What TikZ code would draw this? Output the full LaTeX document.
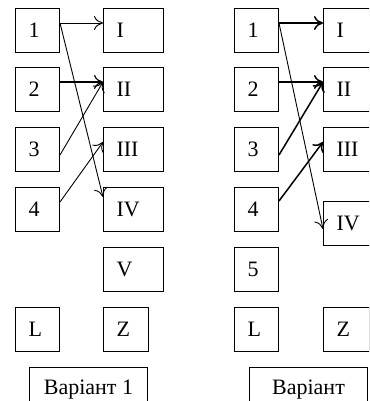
\documentclass[tikz,border=0pt]{standalone}
\usepackage{fontspec}
\setmainfont{Liberation Serif}
\usetikzlibrary{arrows.meta,positioning}

\begin{document}
\begin{tikzpicture}[
            every node/.style={font=\fontsize{11}{13}\selectfont},
            num/.style={draw, line width=0.5pt, minimum height=22pt, inner xsep=6.5pt, inner ysep=0pt, text width=9pt, align=left},
            rom/.style={num, text width=17pt},
            variant/.style={draw, line width=0.5pt, minimum height=22pt, minimum width=59pt, align=center},
            link/.style={-{To[length=4.5pt,width=7pt]}, line width=0.45pt},
            bold link/.style={link, line width=0.75pt},
            node distance = 7.5pt and 21.5pt
  ]

  \useasboundingbox (0,0) rectangle (184.5pt,-200.5pt);
  \clip (0,0) rectangle (184.5pt,-200.5pt);

  % variant 1
  \node[num, anchor=north west] (a1) at (7.5pt,-4pt) {1};
  \node[num] (a2) [below=7pt of a1] {2};
  \node[num] (a3) [below=of a2] {3};
  \node[num] (a4) [below=of a3] {4};

  \node[rom] (r1) [right=of a1] {I};
  \node[rom] (r2) [right=of a2] {II};
  \node[rom] (r3) [right=of a3] {III};
  \node[rom] (r4) [right=of a4] {IV};
  \node[rom] (r5) [below=of r4] {V};

  \node[num, text width=9.5pt] (zl) [below right=7.5pt and 0pt of r5.south west] {Z};
  \node[num] (ll) [left=of zl] {L};
  \node[variant] (varl) [below right=7.5pt and 7pt of ll.south west] {Варіант 1};

  \draw[link] ([yshift=-7.5pt]a1.north east) -- ([yshift=-7.5pt]r1.north west);
  \draw[link] ([yshift=-7.5pt]a1.north east) -- ([yshift=-5pt]r4.north west);
  \draw[link, line width=0.6pt] ([yshift=-7.5pt]a2.north east) -- ([yshift=-7.5pt]r2.north west);
  \draw[link] ([yshift=-14pt]a3.north east) -- ([yshift=-7.5pt]r2.north west);
  \draw[link] ([yshift=-7.5pt]a4.north east) -- ([yshift=-7.5pt]r3.north west);

  % variant 2
  \node[num, anchor=north west] (b1) at (117pt,-4pt) {1};
  \node[num] (b2) [below=7pt of b1] {2};
  \node[num] (b3) [below=of b2] {3};
  \node[num] (b4) [below=of b3] {4};
  \node[num] (b5) [below=of b4] {5};

  \node[rom] (s1) [right=22pt of b1] {I};
  \node[rom] (s2) [right=22pt of b2] {II};
  \node[rom] (s3) [right=22pt of b3] {III};
  \node[rom] (s4) [below=14.5pt of s3] {IV};

  \node[num] (lr) [below=of b5] {L};
  \node[num, text width=10pt] (zr) [right=22pt of lr] {Z};
  \node[variant] (varr) [below right=7.5pt and 7.5pt of lr.south west] {Варіант};

  \draw[bold link] ([yshift=-7.5pt]b1.north east) -- ([yshift=-7.5pt]s1.north west);
  \draw[link] ([yshift=-7.5pt]b1.north east) -- ([yshift=-14pt]s4.north west);
  \draw[bold link] ([yshift=-7.5pt]b2.north east) -- ([yshift=-7.5pt]s2.north west);
  \draw[bold link] ([yshift=-14pt]b3.north east) -- ([yshift=-7.5pt]s2.north west);
  \draw[bold link] ([yshift=-7pt]b4.north east) -- ([yshift=-7.5pt]s3.north west);

\end{tikzpicture}
\end{document}
